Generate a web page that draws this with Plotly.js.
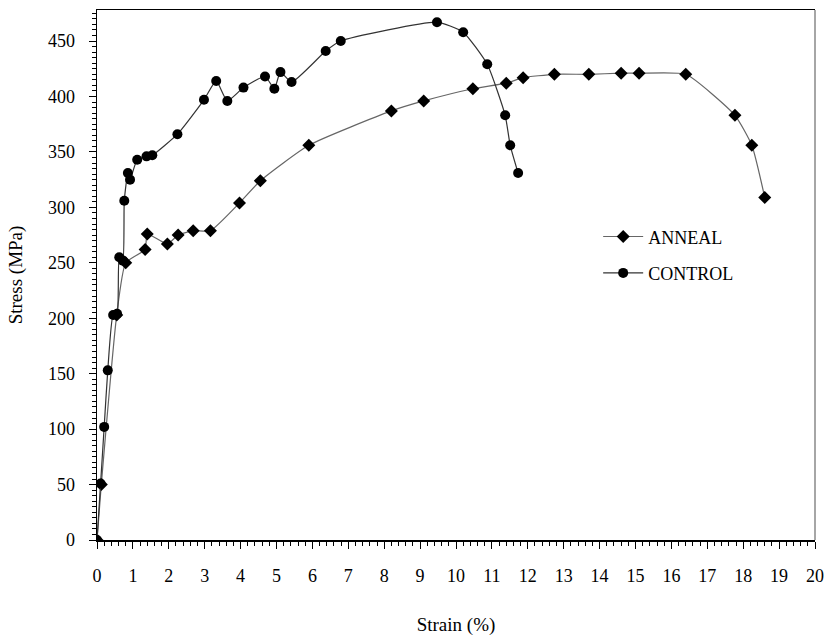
<!DOCTYPE html>
<html>
<head>
<meta charset="utf-8">
<script src="https://cdn.plot.ly/plotly-3.0.1.min.js"></script>
<style>html,body{margin:0;padding:0;background:#fff;}#chart{width:824px;height:641px;}</style>
</head>
<body>
<div id="chart"></div>
<script>
// CONTROL series (strain %, stress MPa)
var controlStrain = [0, 0.1, 0.2, 0.3, 0.45, 0.56, 0.62, 0.72, 0.76, 0.86, 0.92, 1.12, 1.38, 1.54, 2.24, 2.98, 3.32, 3.63, 4.08, 4.68, 4.94, 5.11, 5.42, 6.37, 6.79, 9.47, 10.2, 10.87, 11.37, 11.51, 11.73];
var controlStress = [0, 51, 102, 153, 203, 204, 255, 252, 306, 331, 325, 343, 346, 347, 366, 397, 414, 396, 408, 418, 407, 422, 413, 441, 450, 467, 458, 429, 383, 356, 331];

// ANNEAL series (strain %, stress MPa)
var annealStrain = [0, 0.12, 0.55, 0.8, 1.34, 1.4, 1.96, 2.26, 2.68, 3.16, 3.97, 4.55, 5.9, 8.2, 9.1, 10.47, 11.4, 11.87, 12.74, 13.7, 14.6, 15.1, 16.4, 17.77, 18.24, 18.6];
var annealStress = [0, 50, 203, 250, 262, 276, 267, 275, 279, 279, 304, 324, 356, 387, 396, 407, 412, 417, 420, 420, 421, 421, 420, 383, 356, 309];

var seriesNames = ['ANNEAL', 'CONTROL'];
var xTickVals = [0,1,2,3,4,5,6,7,8,9,10,11,12,13,14,15,16,17,18,19,20];
var yTickVals = [0,50,100,150,200,250,300,350,400,450];

var font = 'Liberation Serif, Times New Roman, serif';

var traces = [
  {
    x: annealStrain, y: annealStress, name: seriesNames[0], legendgroup: 'a',
    type: 'scatter', mode: 'lines+markers',
    line: {color: '#666666', width: 1.2, shape: 'spline', smoothing: 0.5},
    marker: {symbol: 'diamond', size: 10, color: '#000'}
  },
  {
    x: controlStrain, y: controlStress, name: seriesNames[1], legendgroup: 'b',
    type: 'scatter', mode: 'lines+markers',
    line: {color: '#333333', width: 1.2, shape: 'spline', smoothing: 0.5},
    marker: {symbol: 'circle', size: 10, color: '#000'}
  }
];

var layout = {
  width: 824, height: 641,
  margin: {l: 97, r: 9, t: 10, b: 101},
  paper_bgcolor: '#fff', plot_bgcolor: '#fff',
  showlegend: true,
  legend: {x: 0.698, y: 0.607, xanchor: 'left', yanchor: 'top', bgcolor: 'rgba(0,0,0,0)',
           font: {family: font, size: 18, color: '#000'}, tracegroupgap: 10, itemwidth: 40},
  xaxis: {
    range: [0, 20], tickvals: xTickVals, ticktext: xTickVals.map(String),
    showgrid: false, zeroline: false,
    showline: true, linecolor: '#000', linewidth: 1.5, mirror: true,
    ticks: 'outside', ticklen: 7, tickcolor: '#000', tickwidth: 1,
    ticklabelstandoff: 12,
    minor: {dtick: 0.2, ticks: 'outside', ticklen: 4, tickcolor: '#000', showgrid: false},
    tickfont: {family: font, size: 18, color: '#000'},
    title: {text: 'Strain (%)', font: {family: font, size: 19, color: '#000'}, standoff: 32}
  },
  yaxis: {
    range: [0, 478], tickvals: yTickVals, ticktext: yTickVals.map(String),
    showgrid: false, zeroline: false,
    showline: true, linecolor: '#000', linewidth: 1.5,
    ticks: 'outside', ticklen: 7, tickcolor: '#000', tickwidth: 1,
    ticklabelstandoff: 10,
    minor: {dtick: 5, ticks: 'outside', ticklen: 4, tickcolor: '#000', showgrid: false},
    tickfont: {family: font, size: 18, color: '#000'},
    title: {text: 'Stress (MPa)', font: {family: font, size: 19, color: '#000'}, standoff: 20}
  },
  shapes: [
    {type: 'line', xref: 'paper', yref: 'paper', x0: 1, x1: 1, y0: 0, y1: 1,
     line: {color: '#888', width: 1.5}}
  ]
};

Plotly.newPlot('chart', traces, layout, {displayModeBar: false, staticPlot: true});
</script>
</body>
</html>
